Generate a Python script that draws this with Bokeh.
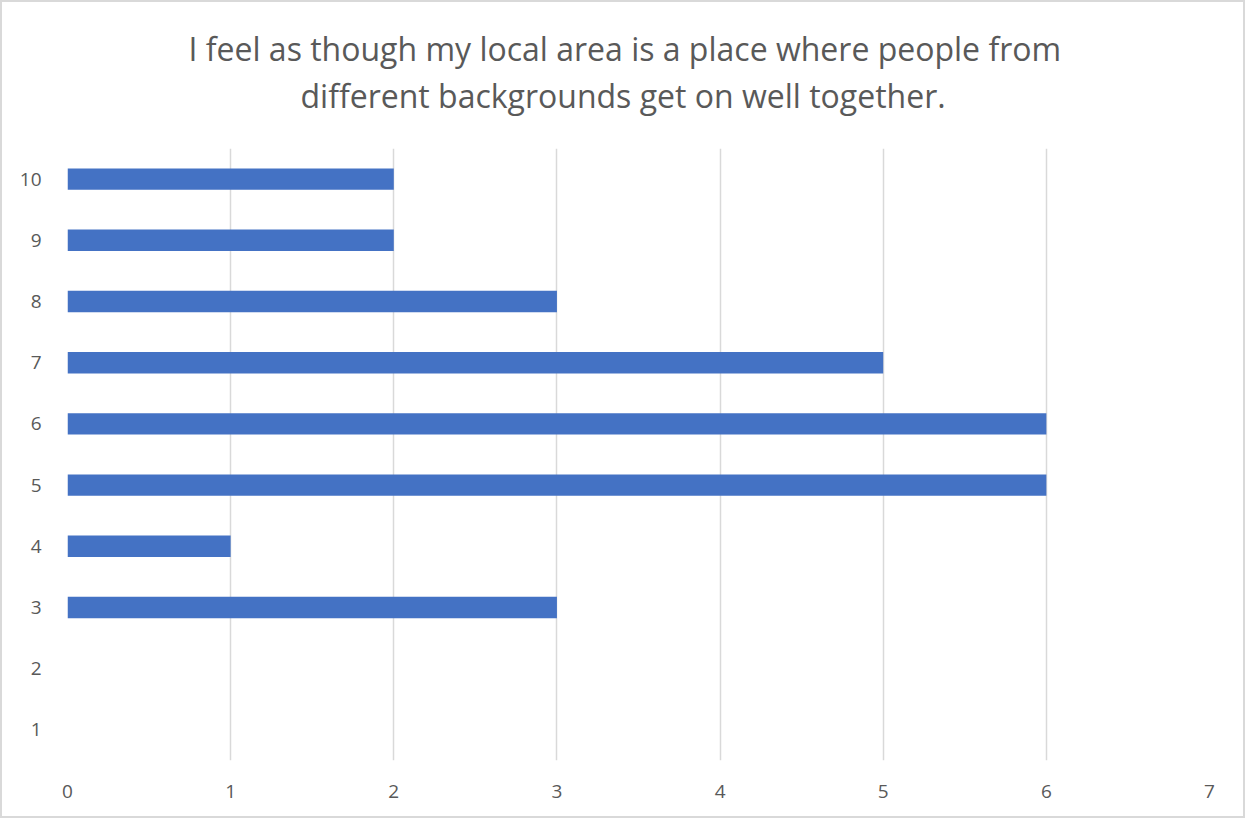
from bokeh.plotting import figure
from bokeh.models import Title, FixedTicker
from bokeh.embed import file_html
from bokeh.resources import INLINE

categories = [1, 2, 3, 4, 5, 6, 7, 8, 9, 10]
values = [0, 0, 3, 1, 6, 6, 5, 3, 2, 2]
x_ticks = [0, 1, 2, 3, 4, 5, 6, 7]
title_line1 = "I feel as though my local area is a place where people from"
title_line2 = "different backgrounds get on well together."

TEXT = "#595959"
FONT = "Open Sans"

p = figure(width=1245, height=818, output_backend="svg", toolbar_location=None,
           x_range=(0, 7), y_range=(0.5, 10.5),
           min_border_left=65, min_border_right=38, min_border_top=146, min_border_bottom=60)
p.styles = {"border": "2px solid #d9d9d9"}
p.outline_line_color = None

p.hbar(y=categories, right=values, left=0, height=0.35,
       fill_color="#4472C4", line_color=None)

# title: outermost line is the figure's own title
p.title.text = title_line1
p.title.align = "left"
p.title.text_font = FONT
p.title.text_font_size = "32px"
p.title.text_font_style = "normal"
p.title.text_color = TEXT
p.title.offset = 121
p.title.standoff = 3

spacer = Title(text=" ", text_font_size="1px", standoff=29)
p.add_layout(spacer, "above")
t2 = Title(text=title_line2, align="left", text_font=FONT, text_font_size="32px",
           text_font_style="normal", text_color=TEXT, offset=233, standoff=0)
p.add_layout(t2, "above")

p.xaxis.ticker = FixedTicker(ticks=x_ticks)
p.yaxis.ticker = FixedTicker(ticks=categories)
for ax in (p.xaxis, p.yaxis):
    ax.axis_line_color = None
    ax.major_tick_line_color = None
    ax.minor_tick_line_color = None
    ax.major_label_text_font = FONT
    ax.major_label_text_font_size = "19px"
    ax.major_label_text_color = TEXT
p.xaxis.major_label_standoff = 18
p.yaxis.major_label_standoff = 20

p.xgrid.ticker = FixedTicker(ticks=x_ticks)
p.xgrid.grid_line_color = "#d9d9d9"
p.xgrid.grid_line_width = 1.5
p.ygrid.grid_line_color = None

open("out.html", "w").write(file_html(p, INLINE))
